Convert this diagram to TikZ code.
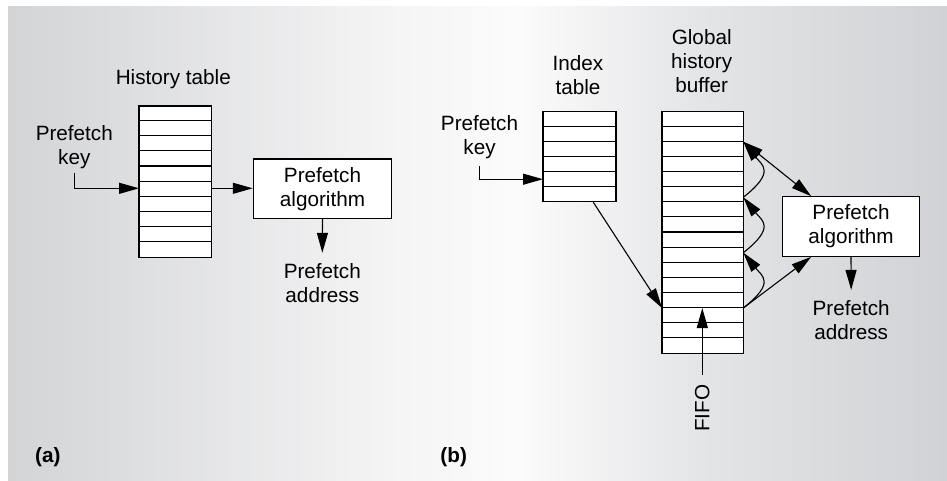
\documentclass[tikz,border=0pt]{standalone}
\usepackage{fontspec}
\setmainfont{Liberation Sans}
\usetikzlibrary{arrows.meta}
\definecolor{bgA}{RGB}{211,212,214}
\definecolor{bgB}{RGB}{245,245,246}
\definecolor{bgC}{RGB}{251,251,251}
\definecolor{bgD}{RGB}{228,229,231}
\definecolor{bgE}{RGB}{208,210,213}
\pgfdeclarehorizontalshading{bgshade}{100bp}{color(0bp)=(bgA); color(25bp)=(bgA); color(45.87bp)=(bgB); color(52.26bp)=(bgC); color(61.85bp)=(bgD); color(75bp)=(bgE); color(100bp)=(bgE)}
\tikzset{
  txt/.style={font=\fontsize{20.7pt}{24pt}\selectfont, align=center, inner sep=3pt, text=black},
  lbl/.style={font=\bfseries\fontsize{20.7pt}{24pt}\selectfont, inner sep=0pt},
  tbl/.style={draw, fill=white, line width=1.1pt, inner sep=0pt},
  rowline/.style={line width=1.1pt},
  algbox/.style={draw, fill=white, line width=1.1pt, inner sep=0pt, font=\fontsize{20.7pt}{24pt}\selectfont, align=center},
  arr/.style={line width=1.1pt, -{Triangle[length=20pt,width=11pt]}},
  darr/.style={line width=1.1pt, {Triangle[length=20pt,width=11pt]}-{Triangle[length=20pt,width=11pt]}},
}
\begin{document}
\begin{tikzpicture}[x=1pt,y=-1pt]
\useasboundingbox (0,0) rectangle (947,480);
\fill[white] (0,0) rectangle (947,480);
\shade[shading=bgshade] (8,6) rectangle (947,480);

% ---------- panel (a)
\node[tbl, minimum width=72.7pt, minimum height=151.3pt] (ht) at (175.35,181.65) {};
\foreach \i in {1,...,9}
  \draw[rowline] ([yshift=-\i*15.13pt]ht.north west) -- ([yshift=-\i*15.13pt]ht.north east);
\node[txt] (htl) at (173.3,79.6) {History table};
\node[txt] (pka) at (74.3,147.5) {Prefetch\\key};
\coordinate (hin) at (139,188.3);
\coordinate (hout) at (211.7,188.3);
\draw[arr, shorten <=1pt] (pka.south) |- (hin);
\node[algbox, minimum width=138.4pt, minimum height=59.3pt] (pa) at (322.5,188.65) {Prefetch\\algorithm};
\draw[arr] (hout) -- (pa.west |- hout);
\node[txt] (paa) at (322.3,282.6) {Prefetch\\address};
\draw[arr, shorten >=7pt] (pa.south) -- (paa.north);
\node[lbl] (la) at (47.8,457) {(a)};

% ---------- panel (b)
\node[tbl, minimum width=73pt, minimum height=90pt] (it) at (579.5,156.7) {};
\foreach \i in {1,...,5}
  \draw[rowline] ([yshift=-\i*15pt]it.north west) -- ([yshift=-\i*15pt]it.north east);
\node[txt] (itl) at (578,75.3) {Index\\table};
\node[txt] (pkb) at (479.5,137.6) {Prefetch\\key};
\coordinate (iin) at (543,179.2);
\draw[arr, shorten <=4pt] (pkb.south) |- (iin);

\node[tbl, minimum width=81.3pt, minimum height=241.6pt] (ghb) at (702.65,232.5) {};
\foreach \i in {1,...,15}
  \draw[rowline] ([yshift=-\i*15.1pt]ghb.north west) -- ([yshift=-\i*15.1pt]ghb.north east);
\node[txt] (ghbl) at (701.7,60.6) {Global\\history\\buffer};

\coordinate (g13w) at (662,308);
\draw[arr] ([xshift=13.8pt]it.south) -- (g13w);

\node[txt, rotate=90] (fifo) at (702.3,408.3) {FIFO};
\coordinate (g13c) at (702.65,308);
\draw[arr, shorten <=7pt] (fifo.east) -- (fifo.east |- g13c);

\coordinate (v0) at (743.3,308);
\coordinate (v1) at (743.3,252.7);
\coordinate (v2) at (743.3,197.3);
\coordinate (v3) at (743.3,141.7);
\draw[arr] (v0) .. controls +(32.7,-25.7) and +(18.7,23.3) .. (v1);
\draw[arr] (v1) .. controls +(32.7,-25.7) and +(18.7,23.3) .. (v2);
\draw[arr] (v2) .. controls +(32.7,-25.7) and +(18.7,23.3) .. (v3);

\node[algbox, minimum width=137.4pt, minimum height=59.6pt] (pb) at (851,226.5) {Prefetch\\algorithm};
\draw[darr] (v3) -- ([xshift=29.4pt]pb.north west);
\draw[arr] (v0) -- ([xshift=29.4pt]pb.south west);
\node[txt] (pba) at (851.2,320.2) {Prefetch\\address};
\draw[arr, shorten >=7.5pt] (pb.south) -- (pba.north);
\node[lbl] (lb) at (453.7,457) {(b)};
\end{tikzpicture}
\end{document}
